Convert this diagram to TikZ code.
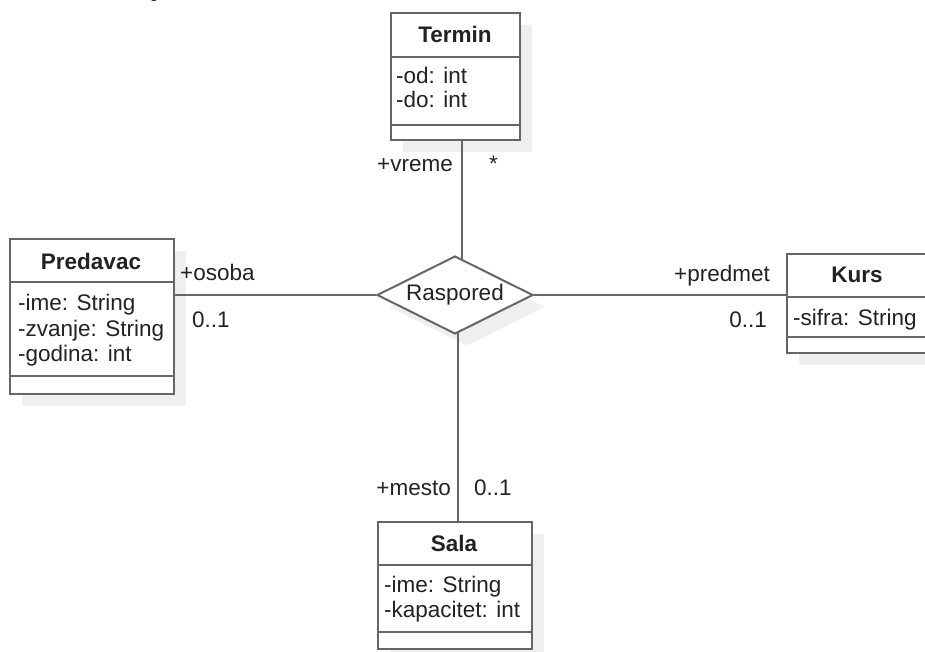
\documentclass[tikz,border=0pt]{standalone}
\usepackage{fontspec}
\setmainfont{Liberation Sans}
\usetikzlibrary{shapes.geometric,shadows}
\definecolor{linec}{HTML}{666666}
\definecolor{shadowc}{HTML}{EFEFEF}
\definecolor{textc}{HTML}{222222}
\newcommand{\umlfont}{\fontsize{22.5}{25}\selectfont}
\begin{document}
\begin{tikzpicture}[x=1pt,y=-1pt,
  umlbox/.style={rectangle,draw=linec,line width=2pt,fill=white,inner sep=0pt,
    anchor=north west,
    drop shadow={shadow xshift=12pt,shadow yshift=-12pt,fill=shadowc,opacity=1}},
  divline/.style={draw=linec,line width=2pt},
  conn/.style={draw=linec,line width=2pt},
  lbl/.style={inner sep=0pt,text=textc,font=\umlfont},
  title/.style={lbl,font=\umlfont\bfseries,anchor=base},
  attr/.style={lbl,anchor=base west},
]
\useasboundingbox (0,0) rectangle (925,651);
\clip (0,0) rectangle (925,651);

% caption letter, mostly above the page edge
\node[inner sep=0pt,anchor=base west,font=\fontsize{52}{52}\selectfont] (cap) at (122,-10) {a)};

% association diamond
\node[diamond,draw=linec,line width=2pt,fill=white,inner sep=0pt,shape aspect=2,
  minimum width=156pt,minimum height=78pt,text=textc,font=\umlfont,
  drop shadow={shadow xshift=12pt,shadow yshift=-12pt,fill=shadowc,opacity=1}]
  (dia) at (455,295) {Raspored};

% class Termin
\node[umlbox,minimum width=129pt,minimum height=127pt] (term) at (390,12) {};
\draw[divline] ([yshift=-45pt]term.north west) -- ([yshift=-45pt]term.north east);
\draw[divline] ([yshift=-113pt]term.north west) -- ([yshift=-113pt]term.north east);
\node[title] (termT) at (455,42) {Termin};
\node[attr] (termA1) at (396,83) {-od: int};
\node[attr] (termA2) at (396,107) {-do: int};

% class Predavac
\node[umlbox,minimum width=164pt,minimum height=155pt] (pred) at (9,238) {};
\draw[divline] ([yshift=-44pt]pred.north west) -- ([yshift=-44pt]pred.north east);
\draw[divline] ([yshift=-138pt]pred.north west) -- ([yshift=-138pt]pred.north east);
\node[title] (predT) at (91,269) {Predavac};
\node[attr] (predA1) at (18,310) {-ime: String};
\node[attr] (predA2) at (18,336) {-zvanje: String};
\node[attr] (predA3) at (18,361) {-godina: int};

% class Kurs
\node[umlbox,minimum width=142pt,minimum height=99pt] (kurs) at (786,253) {};
\draw[divline] ([yshift=-44pt]kurs.north west) -- ([yshift=-44pt]kurs.north east);
\draw[divline] ([yshift=-84pt]kurs.north west) -- ([yshift=-84pt]kurs.north east);
\node[title] (kursT) at (857,282) {Kurs};
\node[attr] (kursA1) at (793,325) {-sifra: String};

% class Sala
\node[umlbox,minimum width=154pt,minimum height=127pt] (sala) at (377,521) {};
\draw[divline] ([yshift=-44pt]sala.north west) -- ([yshift=-44pt]sala.north east);
\draw[divline] ([yshift=-111pt]sala.north west) -- ([yshift=-111pt]sala.north east);
\node[title] (salaT) at (454,551) {Sala};
\node[attr] (salaA1) at (384,592) {-ime: String};
\node[attr] (salaA2) at (384,617) {-kapacitet: int};

% association ends
\coordinate (vt) at (462,259.5);
\coordinate (vb) at (458,332.5);
\draw[conn] (term.south -| vt) -- (vt);
\draw[conn] (vb) -- (vb |- sala.north);
\draw[conn] (pred.east |- dia.west) -- (dia.west);
\draw[conn] (dia.east) -- (dia.east -| kurs.west);

% role names and multiplicities
\node[lbl,anchor=base east] (r1) at (453,171) {+vreme};
\node[lbl,anchor=base west] (m1) at (489,171) {*};
\node[lbl,anchor=base west] (r2) at (180,280) {+osoba};
\node[lbl,anchor=base west] (m2) at (192,327) {0..1};
\node[lbl,anchor=base east] (r3) at (770,281) {+predmet};
\node[lbl,anchor=base east] (m3) at (767,327) {0..1};
\node[lbl,anchor=base east] (r4) at (451,495) {+mesto};
\node[lbl,anchor=base west] (m4) at (474,495) {0..1};
\end{tikzpicture}
\end{document}
